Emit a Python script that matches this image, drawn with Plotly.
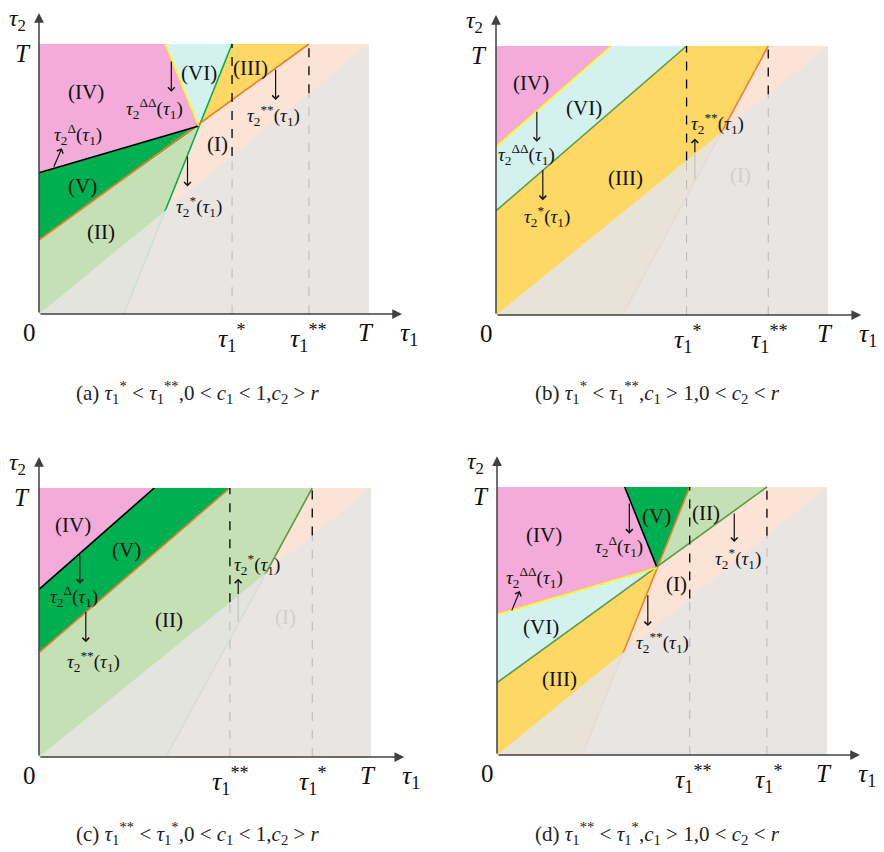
import plotly.graph_objects as go

W, H = 884, 852

# ---------------- colours ----------------
PINK = "#f3acd9"
CYAN = "#d3f2ef"
GOLD = "#fdd865"
PEACH = "#fbe4d6"
LGREEN = "#c5e0b4"
DGREEN = "#00b050"
ORANGE = "#ed7d31"
OLIVE = "#5b9a43"
YELLOW = "#ffff00"
OVERLAY = "rgba(231,228,227,0.9)"
SERIF = "Liberation Serif"

# ---------------- data (normalised, T = 1) ----------------
# panel (a)
A_PTS = {"O": (0, 0), "X": (1, 0), "Z": (1, 1), "Y": (0, 1), "P": (0.484, 0.696),
         "s_top": (0.585, 1), "s_bot": (0.257, 0), "ss_left": (0, 0.274), "ss_top": (0.818, 1),
         "d_left": (0, 0.523), "dd_top": (0.383, 1)}
A_REGIONS = [(PINK, ["Y", "dd_top", "P", "d_left"]), (CYAN, ["dd_top", "s_top", "P"]),
             (GOLD, ["s_top", "ss_top", "P"]), (PEACH, ["P", "ss_top", "Z", "X", "s_bot"]),
             (DGREEN, ["d_left", "P", "ss_left"]), (LGREEN, ["ss_left", "P", "s_bot", "O"])]
A_LINES = [(DGREEN, "s_bot", "s_top"), (ORANGE, "ss_left", "ss_top"), ("#000000", "d_left", "P"),
           (YELLOW, "dd_top", "P")]
A_DASH = [0.585, 0.818]
A_TICKS = [(0.585, "<i>τ</i><sub>1</sub><sup>*</sup>"), (0.818, "<i>τ</i><sub>1</sub><sup>**</sup>")]
A_REGION_LABELS = [("(IV)", 0.142, 0.823), ("(VI)", 0.485, 0.894), ("(III)", 0.641, 0.910),
                   ("(I)", 0.540, 0.630), ("(V)", 0.132, 0.475), ("(II)", 0.188, 0.302)]
A_MATH = [("ΔΔ", 0.349, 0.762), ("Δ", 0.117, 0.663), ("*", 0.484, 0.398), ("**", 0.712, 0.735)]
A_ARROWS = [(0.401, 0.941, 0.401, 0.823), (0.043, 0.540, 0.069, 0.614),
            (0.450, 0.589, 0.450, 0.472), (0.717, 0.910, 0.717, 0.793)]
A_FAINT = []

# panel (b)
B_PTS = {"O": (0, 0), "X": (1, 0), "Z": (1, 1), "Y": (0, 1),
         "dd_left": (0, 0.625), "dd_top": (0.347, 1), "s_left": (0, 0.387), "s_top": (0.574, 1),
         "ss_bot": (0.381, 0), "ss_top": (0.820, 1)}
B_REGIONS = [(PINK, ["Y", "dd_top", "dd_left"]), (CYAN, ["dd_top", "s_top", "s_left", "dd_left"]),
             (GOLD, ["s_top", "ss_top", "ss_bot", "O", "s_left"]), (PEACH, ["ss_top", "Z", "X", "ss_bot"])]
B_LINES = [(YELLOW, "dd_left", "dd_top"), (OLIVE, "s_left", "s_top"), (ORANGE, "ss_bot", "ss_top")]
B_DASH = [0.574, 0.820]
B_TICKS = [(0.579, "<i>τ</i><sub>1</sub><sup>*</sup>"), (0.825, "<i>τ</i><sub>1</sub><sup>**</sup>")]
B_REGION_LABELS = [("(IV)", 0.105, 0.863), ("(VI)", 0.266, 0.771), ("(III)", 0.391, 0.510),
                   ("(I)", 0.737, 0.520)]
B_MATH = [("ΔΔ", 0.091, 0.597), ("*", 0.153, 0.365), ("**", 0.666, 0.712)]
B_ARROWS = [(0.123, 0.761, 0.123, 0.644), (0.141, 0.545, 0.141, 0.427), (0.599, 0.599, 0.599, 0.656)]
B_FAINT = [(0.599, 0.501, 0.599, 0.599)]

# panel (c)
C_PTS = {"O": (0, 0), "X": (1, 0), "Z": (1, 1), "Y": (0, 1),
         "d_left": (0, 0.623), "d_top": (0.347, 1), "ss_left": (0, 0.388), "ss_top": (0.575, 1),
         "s_bot": (0.382, 0), "s_top": (0.823, 1)}
C_REGIONS = [(PINK, ["Y", "d_top", "d_left"]), (DGREEN, ["d_top", "ss_top", "ss_left", "d_left"]),
             (LGREEN, ["ss_top", "s_top", "s_bot", "O", "ss_left"]), (PEACH, ["s_top", "Z", "X", "s_bot"])]
C_LINES = [("#000000", "d_left", "d_top"), (ORANGE, "ss_left", "ss_top"), (OLIVE, "s_bot", "s_top")]
C_DASH = [0.575, 0.823]
C_TICKS = [(0.577, "<i>τ</i><sub>1</sub><sup>**</sup>"), (0.826, "<i>τ</i><sub>1</sub><sup>*</sup>")]
C_REGION_LABELS = [("(IV)", 0.103, 0.861), ("(V)", 0.264, 0.768), ("(II)", 0.392, 0.508),
                   ("(I)", 0.743, 0.520)]
C_MATH = [("Δ", 0.106, 0.597), ("**", 0.164, 0.356), ("*", 0.656, 0.715)]
C_ARROWS = [(0.123, 0.756, 0.123, 0.644), (0.141, 0.545, 0.141, 0.427), (0.600, 0.600, 0.600, 0.663)]
C_FAINT = [(0.600, 0.502, 0.600, 0.600)]

# panel (d)
D_PTS = {"O": (0, 0), "X": (1, 0), "Z": (1, 1), "Y": (0, 1), "P": (0.485, 0.699),
         "d_top": (0.387, 1), "ss_top": (0.584, 1), "ss_bot": (0.258, 0), "s_left": (0, 0.270),
         "s_top": (0.818, 1), "dd_left": (0, 0.524)}
D_REGIONS = [(PINK, ["Y", "d_top", "P", "dd_left"]), (DGREEN, ["d_top", "ss_top", "P"]),
             (LGREEN, ["ss_top", "s_top", "P"]), (PEACH, ["P", "s_top", "Z", "X", "ss_bot"]),
             (CYAN, ["dd_left", "P", "s_left"]), (GOLD, ["s_left", "P", "ss_bot", "O"])]
D_LINES = [("#000000", "d_top", "P"), (ORANGE, "ss_bot", "ss_top"), (OLIVE, "s_left", "s_top"),
           (YELLOW, "dd_left", "P")]
D_DASH = [0.584, 0.818]
D_TICKS = [(0.596, "<i>τ</i><sub>1</sub><sup>**</sup>"), (0.823, "<i>τ</i><sub>1</sub><sup>*</sup>")]
D_REGION_LABELS = [("(IV)", 0.141, 0.822), ("(V)", 0.483, 0.891), ("(II)", 0.634, 0.903),
                   ("(I)", 0.545, 0.637), ("(VI)", 0.133, 0.476), ("(III)", 0.190, 0.282)]
D_MATH = [("Δ", 0.371, 0.779), ("ΔΔ", 0.114, 0.661), ("**", 0.500, 0.419), ("*", 0.730, 0.735)]
D_ARROWS = [(0.401, 0.944, 0.401, 0.826), (0.043, 0.534, 0.069, 0.612),
            (0.457, 0.602, 0.457, 0.481), (0.719, 0.907, 0.719, 0.795)]
D_FAINT = []

CAPTIONS = [
    "(a) <i>τ</i><sub>1</sub><sup>*</sup> &lt; <i>τ</i><sub>1</sub><sup>**</sup>,0 &lt; <i>c</i><sub>1</sub> &lt; 1,<i>c</i><sub>2</sub> &gt; <i>r</i>",
    "(b) <i>τ</i><sub>1</sub><sup>*</sup> &lt; <i>τ</i><sub>1</sub><sup>**</sup>,<i>c</i><sub>1</sub> &gt; 1,0 &lt; <i>c</i><sub>2</sub> &lt; <i>r</i>",
    "(c) <i>τ</i><sub>1</sub><sup>**</sup> &lt; <i>τ</i><sub>1</sub><sup>*</sup>,0 &lt; <i>c</i><sub>1</sub> &lt; 1,<i>c</i><sub>2</sub> &gt; <i>r</i>",
    "(d) <i>τ</i><sub>1</sub><sup>**</sup> &lt; <i>τ</i><sub>1</sub><sup>*</sup>,<i>c</i><sub>1</sub> &gt; 1,0 &lt; <i>c</i><sub>2</sub> &lt; <i>r</i>",
]

# ---------------- layout geometry (pixels) ----------------
PANELS = [
    dict(pts=A_PTS, regions=A_REGIONS, lines=A_LINES, dash=A_DASH, ticks=A_TICKS,
         rlabels=A_REGION_LABELS, math=A_MATH, arrows=A_ARROWS, faint=A_FAINT,
         box=(0, 0, 442, 426), origin=(39, 314), scale=(330, 270), cap=(198, 392)),
    dict(pts=B_PTS, regions=B_REGIONS, lines=B_LINES, dash=B_DASH, ticks=B_TICKS,
         rlabels=B_REGION_LABELS, math=B_MATH, arrows=B_ARROWS, faint=B_FAINT,
         box=(442, 0, 884, 426), origin=(496, 315), scale=(332, 269), cap=(657, 392)),
    dict(pts=C_PTS, regions=C_REGIONS, lines=C_LINES, dash=C_DASH, ticks=C_TICKS,
         rlabels=C_REGION_LABELS, math=C_MATH, arrows=C_ARROWS, faint=C_FAINT,
         box=(0, 426, 442, 852), origin=(39, 757), scale=(332, 269), cap=(198, 833)),
    dict(pts=D_PTS, regions=D_REGIONS, lines=D_LINES, dash=D_DASH, ticks=D_TICKS,
         rlabels=D_REGION_LABELS, math=D_MATH, arrows=D_ARROWS, faint=D_FAINT,
         box=(442, 426, 884, 852), origin=(497, 755), scale=(330, 268), cap=(657, 833)),
]

fig = go.Figure()
annotations = []
layout_axes = {}

for i, pn in enumerate(PANELS):
    k = "" if i == 0 else str(i + 1)
    xa, ya = "x" + k, "y" + k
    x0, y0, x1, y1 = pn["box"]
    ox, oy = pn["origin"]
    wx, wy = pn["scale"]
    layout_axes["xaxis" + k] = dict(domain=[x0 / W, x1 / W], range=[(x0 - ox) / wx, (x1 - ox) / wx],
                                    visible=False, anchor=ya, fixedrange=True)
    layout_axes["yaxis" + k] = dict(domain=[1 - y1 / H, 1 - y0 / H], range=[(oy - y1) / wy, (oy - y0) / wy],
                                    visible=False, anchor=xa, fixedrange=True)
    pts = pn["pts"]

    # coloured regions
    for col, names in pn["regions"]:
        xs = [pts[n][0] for n in names] + [pts[names[0]][0]]
        ys = [pts[n][1] for n in names] + [pts[names[0]][1]]
        fig.add_trace(go.Scatter(x=xs, y=ys, mode="lines", fill="toself", fillcolor=col,
                                 line=dict(width=0, color=col), xaxis=xa, yaxis=ya,
                                 hoverinfo="skip", showlegend=False))
    # boundary curves
    for col, a, b in pn["lines"]:
        fig.add_trace(go.Scatter(x=[pts[a][0], pts[b][0]], y=[pts[a][1], pts[b][1]], mode="lines",
                                 line=dict(width=1.6, color=col), xaxis=xa, yaxis=ya,
                                 hoverinfo="skip", showlegend=False))
    # translucent grey half below the diagonal
    fig.add_trace(go.Scatter(x=[0, 1, 1, 0], y=[0, 1, 0, 0], mode="lines", fill="toself",
                             fillcolor=OVERLAY, line=dict(width=0, color=OVERLAY), xaxis=xa, yaxis=ya,
                             hoverinfo="skip", showlegend=False))
    # dashed verticals
    for u in pn["dash"]:
        fig.add_trace(go.Scatter(x=[u, u], y=[u, 1], mode="lines",
                                 line=dict(width=1.3, color="#000000", dash="dash"), xaxis=xa, yaxis=ya,
                                 hoverinfo="skip", showlegend=False))
        fig.add_trace(go.Scatter(x=[u, u], y=[0, u], mode="lines",
                                 line=dict(width=1, color="#b8b8b8", dash="dash"), xaxis=xa, yaxis=ya,
                                 hoverinfo="skip", showlegend=False))
    for (ax0, ay0, ax1, ay1) in pn["faint"]:
        fig.add_trace(go.Scatter(x=[ax0, ax1], y=[ay0, ay1], mode="lines",
                                 line=dict(width=1.2, color="#c4c2c0"), xaxis=xa, yaxis=ya,
                                 hoverinfo="skip", showlegend=False))

    # axes with arrows
    annotations.append(dict(x=1.1, y=0, ax=0, ay=0, xref=xa, yref=ya, axref=xa, ayref=ya,
                            showarrow=True, arrowhead=2, arrowsize=1.3, arrowwidth=1.5,
                            arrowcolor="#404040", text=""))
    annotations.append(dict(x=0, y=1.115, ax=0, ay=0, xref=xa, yref=ya, axref=xa, ayref=ya,
                            showarrow=True, arrowhead=2, arrowsize=1.3, arrowwidth=1.5,
                            arrowcolor="#404040", text=""))

    def txt(t, x, y, size, color="#111111"):
        annotations.append(dict(x=x, y=y, xref=xa, yref=ya, text=t, showarrow=False,
                                font=dict(family=SERIF, size=size, color=color),
                                xanchor="center", yanchor="middle"))

    # axis labels
    txt("<i>τ</i><sub>2</sub>", -0.065, 1.09, 24)
    txt("<i>T</i>", -0.05, 0.965, 25)
    txt("0", -0.03, -0.068, 25)
    txt("<i>T</i>", 0.99, -0.068, 25)
    txt("<i>τ</i><sub>1</sub>", 1.12, -0.075, 26)
    for u, t in pn["ticks"]:
        txt(t, u, -0.09, 26)

    # region labels
    for t, u, v in pn["rlabels"]:
        faint = (t == "(I)" and i in (1, 2))
        txt(t, u, v, 21, "#d2cfcd" if faint else "#111111")
    # curve labels
    for sup, u, v in pn["math"]:
        txt("<i>τ</i><sub>2</sub><sup>" + sup + "</sup>(<i>τ</i><sub>1</sub>)", u, v, 19)
    # arrows
    for (ax0, ay0, ax1, ay1) in pn["arrows"]:
        annotations.append(dict(x=ax1, y=ay1, ax=ax0, ay=ay0, xref=xa, yref=ya, axref=xa, ayref=ya,
                                showarrow=True, arrowhead=4, arrowsize=1.1, arrowwidth=1.2,
                                arrowcolor="#111111", text=""))
    # caption
    cx, cy = pn["cap"]
    annotations.append(dict(x=cx / W, y=1 - cy / H, xref="paper", yref="paper", text=CAPTIONS[i],
                            showarrow=False, font=dict(family=SERIF, size=21, color="#222222"),
                            xanchor="center", yanchor="middle"))

fig.update_layout(width=W, height=H, margin=dict(l=0, r=0, t=0, b=0),
                  paper_bgcolor="white", plot_bgcolor="white", showlegend=False,
                  annotations=annotations, **layout_axes)
fig.write_html("out.html")
